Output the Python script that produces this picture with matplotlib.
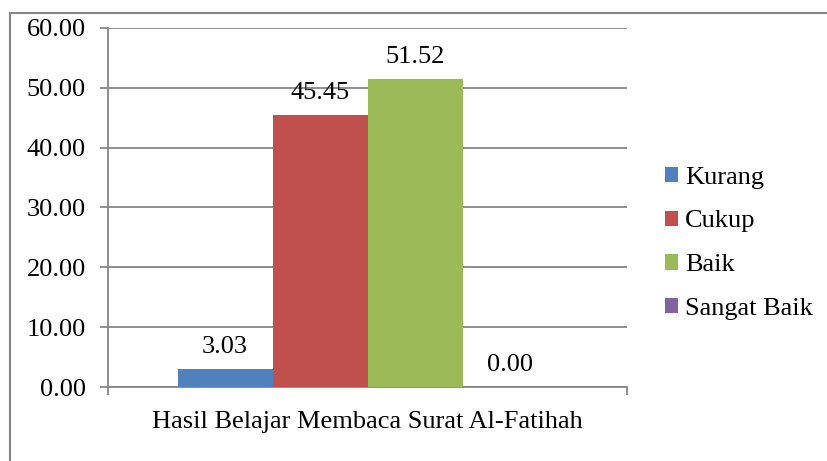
import matplotlib

matplotlib.use("Agg")
import matplotlib.pyplot as plt  # noqa: E402
from matplotlib.patches import Rectangle  # noqa: E402

plt.rcParams["font.family"] = ["Liberation Serif", "DejaVu Serif"]

# --- Data -------------------------------------------------------------
CATEGORY = "Hasil Belajar Membaca Surat Al-Fatihah"
SERIES = ["Kurang", "Cukup", "Baik", "Sangat Baik"]
VALUES = [3.03, 45.45, 51.52, 0.00]
COLORS = ["#4F81BD", "#C0504D", "#9BBB59", "#8064A2"]
Y_TICKS = [0, 10, 20, 30, 40, 50, 60]

GRAY = "#868686"
W, H = 827, 461
FS = 19

fig = plt.figure(figsize=(W / 100, H / 100), dpi=100)
ax = fig.add_axes([108 / W, 1 - 387 / H, (627 - 108) / W, (387 - 28) / H])

# outer chart frame (cropped on the right and bottom)
fig.add_artist(Rectangle((10 / W, -0.5), 2.0, 0.5 + 1 - 13 / H,
                         transform=fig.transFigure, fill=False,
                         edgecolor=GRAY, linewidth=1.5))

bar_w = 95 / 519
n = len(SERIES)
for i, (name, val, col) in enumerate(zip(SERIES, VALUES, COLORS)):
    x = 0.5 + (i - (n - 1) / 2) * bar_w
    ax.bar(x, val, width=bar_w, color=col, label=name, zorder=3)
    ax.annotate(f"{val:.2f}", xy=(x, val), xytext=(0, 8),
                textcoords="offset points", ha="center", va="bottom",
                fontsize=FS)

ax.set_xlim(0, 1)
ax.set_ylim(0, 60)
ax.set_yticks(Y_TICKS)
ax.set_yticklabels([f"{t:.2f}" for t in Y_TICKS], fontsize=FS)
ax.yaxis.grid(True, color=GRAY, linewidth=1.3, zorder=0)
ax.set_axisbelow(True)

ax.set_xticks([0.5])
ax.set_xticklabels([CATEGORY], fontsize=FS)
ax.set_xticks([0, 1], minor=True)
ax.tick_params(axis="x", which="major", length=0, pad=17)
ax.tick_params(axis="x", which="minor", length=6, width=1.3, color=GRAY)
ax.tick_params(axis="y", length=6, width=1.3, color=GRAY, pad=10)

for s in ("top", "right"):
    ax.spines[s].set_visible(False)
for s in ("left", "bottom"):
    ax.spines[s].set_color(GRAY)
    ax.spines[s].set_linewidth(1.3)

ax.legend(loc="center left", bbox_to_anchor=(1.027, 0.40),
          frameon=False, fontsize=FS,
          handlelength=0.5, handleheight=0.5, handletextpad=0.27,
          labelspacing=0.83)

fig.savefig("out.png", dpi=100)
